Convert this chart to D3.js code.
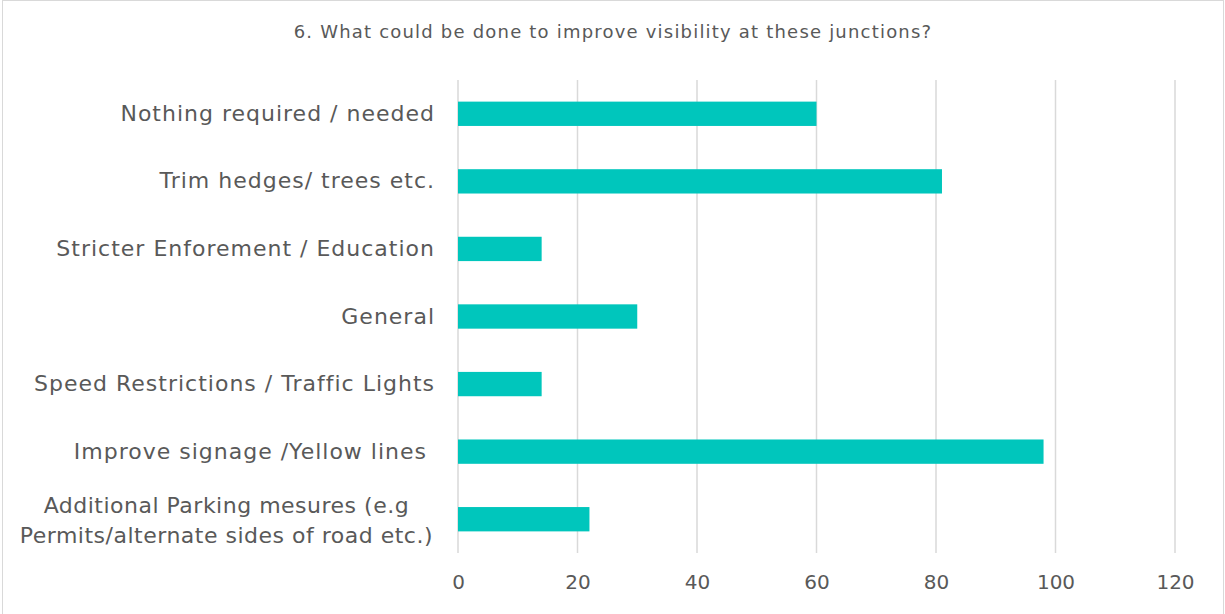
<!DOCTYPE html>
<html>
  <head>
    <meta charset="utf-8">
    <script src="https://d3js.org/d3.v7.min.js"></script>
    <style>
      body { margin: 0px; background: #ffffff; }
      .tick text { fill: #595959; font-family: 'DejaVu Sans', sans-serif; }
      .title { fill: #595959; font-family: 'DejaVu Sans', sans-serif; font-size: 18px; letter-spacing: 1.2px; }
    </style>
  </head>
  <body>
    <div id="chart"></div>
    <script>
      const title = '6. What could be done to improve visibility at these junctions?';
      const categories = [
        'Nothing required / needed',
        'Trim hedges/ trees etc.',
        'Stricter Enforement / Education',
        'General',
        'Speed Restrictions / Traffic Lights',
        'Improve signage /Yellow lines ',
        'Additional Parking mesures (e.g\nPermits/alternate sides of road etc.)'
      ];
      const values = [60, 81, 14, 30, 14, 98, 22];
      const xTicks = [0, 20, 40, 60, 80, 100, 120];

      const width = 1225, height = 614;
      const margin = { left: 458, right: 50, top: 80, bottom: 61 };

      const svg = d3.select('#chart').append('svg')
        .attr('width', width)
        .attr('height', height);

      // chart border
      svg.append('rect')
        .attr('x', 2.5).attr('y', 0.5)
        .attr('width', 1221).attr('height', 640)
        .attr('fill', 'none')
        .attr('stroke', '#d9d9d9');

      svg.append('text')
        .attr('class', 'title')
        .attr('x', 613)
        .attr('y', 38)
        .attr('text-anchor', 'middle')
        .text(title);

      const xScale = d3.scaleLinear()
        .domain([0, 120])
        .range([margin.left, width - margin.right]);

      const yScale = d3.scaleBand()
        .domain(categories)
        .range([margin.top, height - margin.bottom])
        .paddingInner(0.64)
        .paddingOuter(0.32);

      // gridlines
      svg.append('g').selectAll('line').data(xTicks)
        .enter().append('line')
          .attr('x1', d => xScale(d)).attr('x2', d => xScale(d))
          .attr('y1', margin.top).attr('y2', height - margin.bottom)
          .attr('stroke', '#d9d9d9')
          .attr('stroke-width', 1.5);

      // bars
      svg.append('g').selectAll('rect').data(values)
        .enter().append('rect')
          .attr('x', xScale(0))
          .attr('y', (d, i) => yScale(categories[i]))
          .attr('width', d => xScale(d) - xScale(0))
          .attr('height', yScale.bandwidth())
          .attr('fill', '#00c6bc');

      // x axis labels
      const xAxis = d3.axisBottom(xScale)
        .tickValues(xTicks)
        .tickSize(0)
        .tickPadding(22);
      const xAxisG = svg.append('g')
        .attr('transform', `translate(0,${height - margin.bottom})`)
        .call(xAxis);
      xAxisG.select('.domain').remove();
      xAxisG.selectAll('text').style('font-size', '20px');

      // y axis labels
      const yAxis = d3.axisLeft(yScale)
        .tickSize(0)
        .tickPadding(23);
      const yAxisG = svg.append('g')
        .attr('transform', `translate(${margin.left},0)`)
        .call(yAxis);
      yAxisG.select('.domain').remove();
      yAxisG.selectAll('text')
        .style('font-size', '22px')
        .style('letter-spacing', '1px')
        .style('white-space', 'pre')
        .each(function(d) {
          const lines = d.split('\n');
          if (lines.length < 2) return;
          const t = d3.select(this).text(null)
            .style('letter-spacing', '0.5px');
          lines.forEach((l, i) => {
            t.append('tspan')
              .attr('x', 0)
              .attr('dy', i === 0 ? '-0.3em' : '1.36em')
              .text(l);
          });
          const w = this.getBBox().width;
          t.attr('text-anchor', 'middle');
          t.selectAll('tspan').attr('x', -25 - w / 2);
        });
    </script>
  </body>
</html>
